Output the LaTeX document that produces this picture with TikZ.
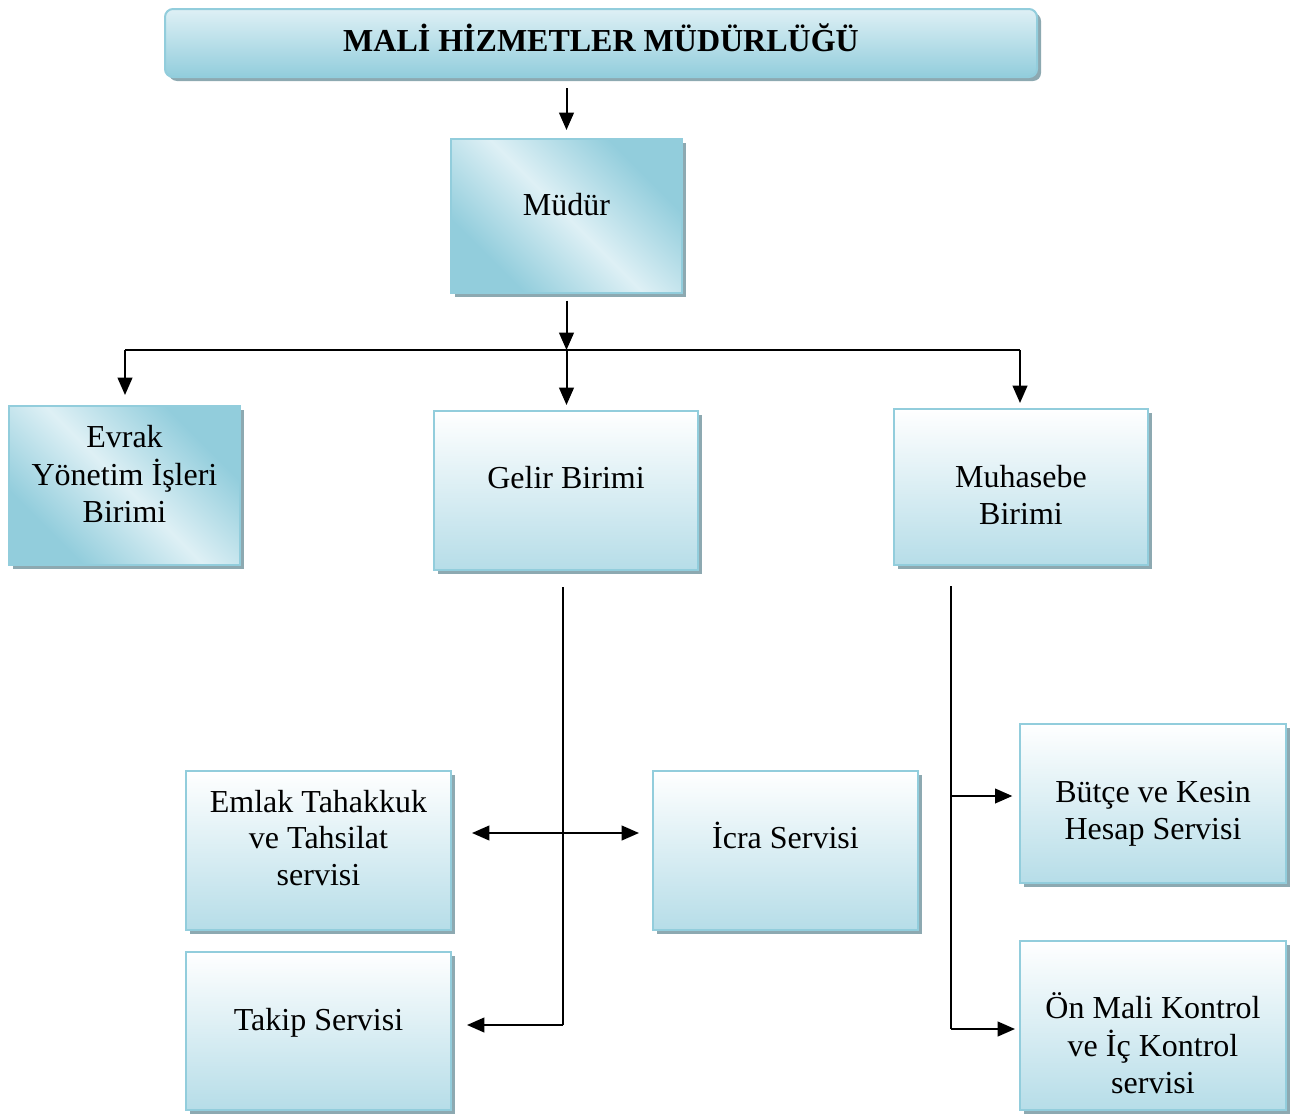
\documentclass[tikz,border=0pt]{standalone}
\usepackage{fontspec}
\setmainfont{Liberation Serif}
\usepackage{tikz}
\usetikzlibrary{arrows.meta,shadows}

\definecolor{boxline}{RGB}{146,205,220}
\definecolor{boxdark}{RGB}{146,205,220}
\definecolor{boxlight}{RGB}{222,240,245}
\definecolor{boxpale}{RGB}{182,221,232}
\definecolor{boxshadow}{RGB}{141,169,177}

% light band running from top left to bottom right
\pgfdeclarehorizontalshading{diagshade}{100bp}{color(0bp)=(boxdark); color(28bp)=(boxdark); color(50bp)=(boxlight); color(72bp)=(boxdark); color(100bp)=(boxdark)}

% text block, moved up or down inside its box
\newcommand{\boxtext}[2]{\raisebox{#1}[0pt][0pt]{\begin{tabular}{@{}c@{}}#2\end{tabular}}}

\tikzset{
  unitbox/.style={draw=boxline, line width=1.5pt, align=center, inner sep=2pt,
    font=\fontsize{24}{27.7}\selectfont,
    drop shadow={shadow xshift=3pt, shadow yshift=-3pt, opacity=1, fill=boxshadow}},
  palebox/.style={unitbox, top color=white, bottom color=boxpale},
  diagbox/.style={unitbox, shading=diagshade, shading angle=45},
  arr/.style={line width=1.5pt, -{Triangle[length=13pt,width=11pt]}},
  dblarr/.style={line width=1.5pt, {Triangle[length=13pt,width=11pt]}-{Triangle[length=13pt,width=11pt]}},
  trunk/.style={line width=1.5pt}
}

\begin{document}
\begin{tikzpicture}[x=0.75pt,y=0.75pt,yscale=-1,xscale=1]
\useasboundingbox (0,0) rectangle (1290,1114);

% Title
\node [unitbox, rounded corners=6pt, top color=boxlight, bottom color=boxdark,
  minimum width=654pt, minimum height=51pt, font=\fontsize{24}{27.7}\selectfont\bfseries]
  (title) at (601,43) {\boxtext{-6.25pt}{MALİ HİZMETLER MÜDÜRLÜĞÜ}};
% Director
\node [diagbox, minimum width=173.25pt, minimum height=115.5pt] (mudur) at (566.5,216) {\boxtext{-0.25pt}{Müdür}};

% Units
\node [diagbox, minimum width=173.25pt, minimum height=119.25pt] (evrak) at (124.5,485.5) {\boxtext{-0.25pt}{Evrak\\Yönetim İşleri\\Birimi}};
\node [palebox, minimum width=198pt, minimum height=119.25pt] (gelir) at (566,490.5) {\boxtext{0.5pt}{Gelir Birimi}};
\node [palebox, minimum width=190.5pt, minimum height=117pt] (muhasebe) at (1021,487) {\boxtext{-15.25pt}{Muhasebe\\Birimi}};

% Services
\node [palebox, minimum width=198.75pt, minimum height=119.25pt] (emlak) at (318.5,850.5) {\boxtext{0.5pt}{Emlak Tahakkuk\\ve Tahsilat\\servisi}};
\node [palebox, minimum width=198.75pt, minimum height=119.25pt] (icra) at (785.5,850.5) {\boxtext{1pt}{İcra Servisi}};
\node [palebox, minimum width=198.75pt, minimum height=118.5pt] (takip) at (318.5,1031) {\boxtext{-0.25pt}{Takip Servisi}};
\node [palebox, minimum width=199.5pt, minimum height=119.25pt] (butce) at (1153,803.5) {\boxtext{-13.75pt}{Bütçe ve Kesin\\Hesap Servisi}};
\node [palebox, minimum width=199.5pt, minimum height=126.75pt] (onmali) at (1153,1025.5) {\boxtext{-23.5pt}{Ön Mali Kontrol\\ve İç Kontrol\\servisi}};

% Bus and turning points
\coordinate (busL) at (125,350);
\coordinate (busR) at (1020,350);
\coordinate (busM) at (566.5,350);
\coordinate (gmid) at (563,833);
\coordinate (gturn) at (563,1025);
\coordinate (mtop) at (951,586);
\coordinate (mmid) at (951,796);
\coordinate (mbot) at (951,1029);

% Top level
\draw [arr, shorten <=7.5pt, shorten >=6pt] (title.south -| mudur.north) -- (mudur.north);
\draw [arr, shorten <=5pt] (mudur.south) -- (busM);
\draw [trunk] (busL) -- (busR);
\draw [arr, shorten >=7.5pt] (busL) -- (busL |- evrak.north);
\draw [arr, shorten >=3.75pt] (busM) -- (busM |- gelir.north);
\draw [arr, shorten >=3.75pt] (busR) -- (busR |- muhasebe.north);

% Gelir branch
\draw [trunk, shorten <=12pt] (gturn |- gelir.south) -- (gturn);
\draw [dblarr, shorten <=15pt, shorten >=9.75pt] (gmid -| emlak.east) -- (gmid -| icra.west);
\draw [arr, shorten >=11.25pt] (gturn) -- (gturn -| takip.east);

% Muhasebe branch
\draw [trunk] (mtop) -- (mbot);
\draw [arr, shorten >=5pt] (mmid) -- (mmid -| butce.west);
\draw [arr, shorten >=3pt] (mbot) -- (mbot -| onmali.west);

\end{tikzpicture}
\end{document}
